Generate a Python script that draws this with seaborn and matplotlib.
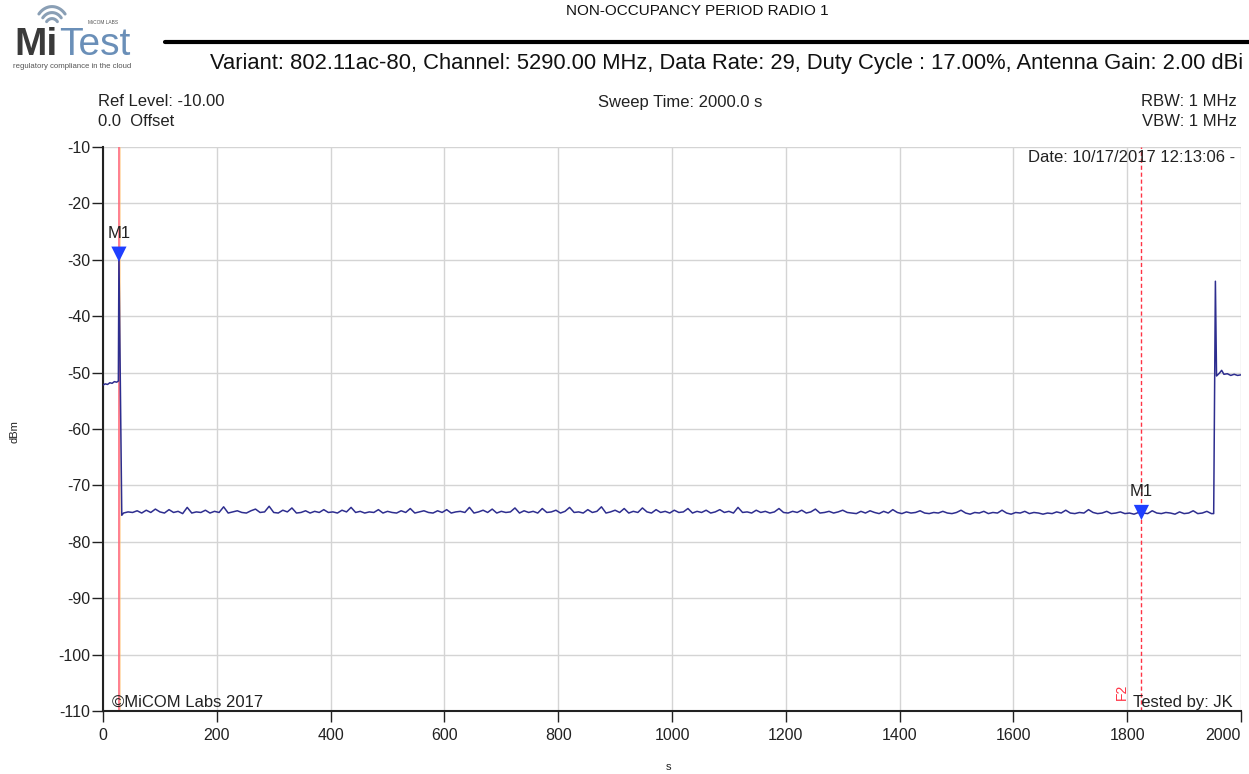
import numpy as np
import pandas as pd
import matplotlib
matplotlib.use("Agg")
import matplotlib.pyplot as plt
import seaborn as sns

# ---------------- data ----------------
pre_t = [0, 4, 8, 12, 16, 20, 24, 27]
pre_v = [-52.2, -52.0, -52.1, -51.8, -51.9, -51.6, -51.7, -51.5]

spike_t = [28, 33]
spike_v = [-29.0, -75.3]

noise_start = 36
noise_step = 8
noise_v = [
    -74.9, -74.7, -74.8, -74.5, -74.9, -74.4, -74.8, -74.2, -74.7, -74.9, -74.3, -74.8, -74.6, -75.0, -73.9, -74.9, -74.7, -74.8, -74.4, -74.9,
    -74.6, -74.8, -73.8, -74.9, -74.7, -74.5, -74.8, -74.9, -74.5, -74.2, -74.8, -74.7, -73.7, -74.8, -74.9, -74.4, -74.7, -74.0, -74.9, -74.8,
    -74.5, -74.9, -74.6, -74.8, -74.3, -74.8, -74.7, -74.9, -74.4, -74.7, -73.9, -74.8, -74.6, -74.9, -74.7, -74.8, -74.3, -74.9, -74.6, -74.8,
    -74.9, -74.5, -74.8, -74.1, -74.9, -74.7, -74.5, -74.8, -74.9, -74.5, -74.8, -74.3, -74.9, -74.7, -74.6, -74.8, -73.9, -74.9, -74.7, -74.4,
    -74.8, -74.2, -74.9, -74.6, -74.8, -74.7, -74.0, -74.9, -74.5, -74.8, -74.6, -74.9, -74.1, -74.8, -74.7, -74.4, -74.9, -74.6, -73.9, -74.8,
    -74.7, -74.9, -74.3, -74.8, -74.6, -73.8, -74.9, -74.7, -74.4, -74.8, -74.1, -74.9, -74.6, -74.8, -74.0, -74.7, -74.9, -74.3, -74.8, -74.6,
    -74.9, -74.4, -74.8, -74.7, -74.1, -74.9, -74.6, -74.8, -74.4, -74.9, -74.7, -74.3, -74.8, -74.6, -74.9, -73.9, -74.8, -74.7, -74.9, -74.4,
    -74.8, -74.6, -74.9, -74.7, -74.1, -74.8, -74.9, -74.6, -74.8, -74.4, -74.9, -74.7, -74.2, -74.9, -74.8, -74.6, -74.9, -74.7, -74.4, -74.8,
    -74.9, -75.0, -74.6, -74.9, -74.5, -74.8, -75.0, -74.6, -74.9, -74.3, -74.8, -75.0, -74.7, -74.9, -74.8, -74.5, -74.9, -75.0, -74.8, -74.9,
    -74.6, -74.9, -75.0, -74.8, -74.4, -74.9, -75.1, -74.8, -74.9, -74.6, -75.0, -74.8, -74.9, -74.4, -74.9, -75.1, -74.8, -74.9, -74.6, -75.0,
    -74.8, -74.9, -75.1, -74.9, -75.0, -74.7, -74.9, -74.4, -74.9, -75.0, -74.8, -74.9, -74.3, -74.8, -75.0, -74.9, -74.6, -75.0, -74.9, -74.7,
    -75.0, -74.9, -75.1, -74.8, -74.9, -75.0, -74.5, -74.9, -75.0, -74.8, -74.9, -75.1, -74.7, -75.0, -74.9, -74.5, -75.0, -74.9, -74.6, -75.0,
]

post_t = [1952, 1955, 1957, 1962, 1966, 1970, 1976, 1982, 1988, 1994, 2000]
post_v = [-75.0, -33.8, -50.6, -50.1, -49.6, -50.3, -50.2, -50.5, -50.3, -50.5, -50.4]

marker_t = [28, 1825]
marker_v = [-29.0, -74.8]
marker_lbl = ["M1", "M1"]

yticks = [-10, -20, -30, -40, -50, -60, -70, -80, -90, -100, -110]
xticks = [0, 200, 400, 600, 800, 1000, 1200, 1400, 1600, 1800, 2000]

noise_t = [noise_start + i * noise_step for i in range(len(noise_v))]
df = pd.DataFrame({
    "s": pre_t + spike_t + noise_t + post_t,
    "dBm": pre_v + spike_v + noise_v + post_v,
})

# ---------------- figure ----------------
sns.set_style("white")
plt.rcParams["font.family"] = ["Liberation Sans", "DejaVu Sans"]

W, H = 1249, 774
TXT = "#222222"
fig = plt.figure(figsize=(W / 100, H / 100), dpi=100)
ax = fig.add_axes([103 / W, 1 - 711 / H, (1241 - 103) / W, (711 - 147) / H])

for v in yticks:
    ax.axhline(v, color="#d4d4d4", lw=1.0, zorder=0)
for v in xticks:
    ax.axvline(v, color="#d4d4d4", lw=1.0, zorder=0)

ax.axvline(marker_t[0], color="#ff6a7a", lw=1.2, zorder=1)
ax.axvline(marker_t[0] + 2, color="#ffc070", lw=0.6, zorder=1, alpha=0.6)
ax.axvline(marker_t[1], color="#ff3344", lw=1.0, ls=(0, (3, 2)), zorder=1)

sns.lineplot(data=df, x="s", y="dBm", ax=ax, color="#2e2e8f", lw=1.1,
             estimator=None, sort=False, zorder=3)

ax.scatter(marker_t, marker_v, marker="v", s=120, color="#1f3fff", zorder=4,
           edgecolor="none")
for t, v, l in zip(marker_t, marker_v, marker_lbl):
    ax.text(t, v + 2.3, l, ha="center", va="bottom", fontsize=12, color=TXT)

ax.set_xlim(0, 2000)
ax.set_ylim(-110, -10)
ax.set_xticks(xticks)
ax.set_yticks(yticks)
ax.set_xticklabels([str(x) for x in xticks], fontsize=11.5, color=TXT)
ax.set_yticklabels([str(y) for y in yticks], fontsize=11.5, color=TXT)
xl = ax.get_xticklabels()
xl[-1].set_horizontalalignment("right")
ax.tick_params(axis="both", direction="out", length=8, width=1.0, color=TXT,
               left=True, bottom=True)
ax.tick_params(axis="y", pad=1)
ax.tick_params(axis="x", pad=4)
for side in ["top", "right"]:
    ax.spines[side].set_visible(False)
for side in ["left", "bottom"]:
    ax.spines[side].set_color(TXT)
    ax.spines[side].set_linewidth(1.5)
ax.set_xlabel("")
ax.set_ylabel("")

# axis labels
fig.text(15 / W, 1 - 432 / H, "dBm", rotation=90, ha="center", va="center",
         fontsize=8, color=TXT)
fig.text(668 / W, 1 - 767 / H, "s", ha="center", va="center", fontsize=8,
         color=TXT)

# in-axes annotations (positions in pixels converted to figure fraction)
fig.text(112 / W, 1 - 702 / H, "©MiCOM Labs 2017", ha="left", va="center",
         fontsize=12, color=TXT)
fig.text(1233 / W, 1 - 702 / H, "Tested by: JK", ha="right", va="center",
         fontsize=12, color=TXT)
fig.text(1122 / W, 1 - 692 / H, "F2", rotation=90, ha="center", va="center",
         fontsize=10, color="#ff3344")
fig.text(1235 / W, 1 - 157 / H, "Date: 10/17/2017 12:13:06 -", ha="right",
         va="center", fontsize=12, color=TXT)

# header annotations
fig.text(98 / W, 1 - 101 / H, "Ref Level: -10.00", ha="left", va="center",
         fontsize=12, color=TXT)
fig.text(98 / W, 1 - 122 / H, "0.0  Offset", ha="left", va="center",
         fontsize=12, color=TXT)
fig.text(680 / W, 1 - 103 / H, "Sweep Time: 2000.0 s", ha="center", va="center",
         fontsize=12, color=TXT)
fig.text(1237 / W, 1 - 101 / H, "RBW: 1 MHz", ha="right", va="center",
         fontsize=12, color=TXT)
fig.text(1237 / W, 1 - 122 / H, "VBW: 1 MHz", ha="right", va="center",
         fontsize=12, color=TXT)

# title & variant
fig.text(697 / W, 1 - 11 / H, "NON-OCCUPANCY PERIOD RADIO 1", ha="center",
         va="center", fontsize=11, color="#111111")
fig.add_artist(plt.Line2D([165 / W, 1 - 0.5 / W], [1 - 42 / H, 1 - 42 / H],
                          color="black", lw=3, transform=fig.transFigure))
fig.text(1243 / W, 1 - 63 / H,
         "Variant: 802.11ac-80, Channel: 5290.00 MHz, Data Rate: 29, Duty Cycle : 17.00%, Antenna Gain: 2.00 dBi",
         ha="right", va="center", fontsize=15.8, color="#111111")

# logo
fig.text(14 / W, 1 - 55 / H, "Mi", ha="left", va="baseline", fontsize=28,
         fontweight="bold", color="#3a3a3a")
fig.text(59 / W, 1 - 55 / H, "Test", ha="left", va="baseline", fontsize=28,
         color="#6a8fb8")
fig.text(13 / W, 1 - 67 / H, "regulatory compliance in the cloud", ha="left",
         va="center", fontsize=5.6, color="#555555")
fig.text(88 / W, 1 - 22 / H, "MiCOM LABS", ha="left", va="center", fontsize=3.5,
         color="#555555")
lax = fig.add_axes([32 / W, 1 - 27 / H, 40 / W, 24 / H])
lax.set_axis_off()
th = np.linspace(np.pi * 0.22, np.pi * 0.78, 40)
for r in [0.35, 0.6, 0.85]:
    lax.plot(r * np.cos(th), r * np.sin(th), color="#8a9fb5", lw=2.2)
lax.set_xlim(-1, 1)
lax.set_ylim(0, 1)

fig.savefig("out.png", dpi=100, facecolor="white")
